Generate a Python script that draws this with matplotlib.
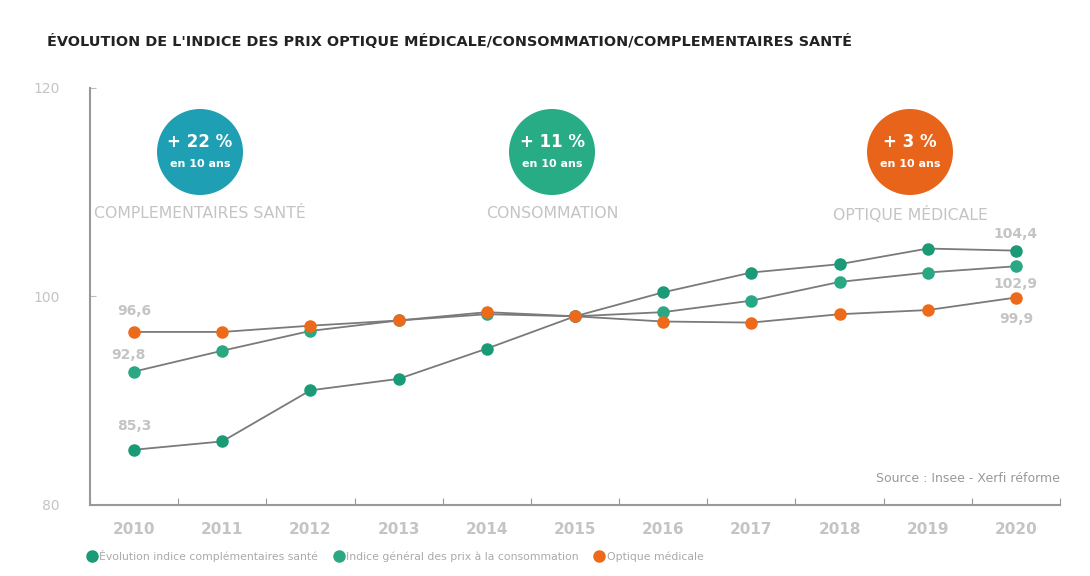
import numpy as np
import matplotlib
matplotlib.use("Agg")
import matplotlib.pyplot as plt
from matplotlib.patches import Circle

years = ["2010", "2011", "2012", "2013", "2014", "2015", "2016", "2017", "2018", "2019", "2020"]
complementaires = [85.3, 86.1, 91.0, 92.1, 95.0, 98.1, 100.4, 102.3, 103.1, 104.6, 104.4]
consommation = [92.8, 94.8, 96.7, 97.7, 98.3, 98.1, 98.5, 99.6, 101.4, 102.3, 102.9]
optique = [96.6, 96.6, 97.2, 97.7, 98.5, 98.1, 97.6, 97.5, 98.3, 98.7, 99.9]

series_names = ["Évolution indice complémentaires santé",
                "Indice général des prix à la consommation",
                "Optique médicale"]
badge_values = ["+ 22 %", "+ 11 %", "+ 3 %"]
badge_titles = ["COMPLEMENTAIRES SANTÉ", "CONSOMMATION", "OPTIQUE MÉDICALE"]
y_ticks = [80, 100, 120]

colors = ["#1f9fb3", "#27ac86", "#e8641b"]
marker_colors = ["#1b9a78", "#2aa884", "#ec6a1a"]
light = "#c4c4c4"
line_col = "#7a7a7a"

fig = plt.figure(figsize=(10.9, 5.76), dpi=100)
ax = fig.add_axes([90 / 1090, 71 / 576, 970 / 1090, 417 / 576])

x = np.arange(len(years))
for vals, mc, name in zip([complementaires, consommation, optique], marker_colors, series_names):
    ax.plot(x, vals, color=line_col, lw=1.3, marker="o", ms=8,
            markerfacecolor=mc, markeredgecolor=mc, label=name, zorder=3)

ax.set_xlim(-0.5, len(years) - 0.5)
ax.set_ylim(80, 120)
ax.set_xticks(np.arange(len(years) + 1) - 0.5)
ax.set_xticklabels([])
ax.set_xticks(x, minor=True)
ax.set_xticklabels(years, minor=True, color=light, fontsize=11, fontweight="bold")
ax.tick_params(axis="x", which="minor", length=0, pad=12)
ax.tick_params(axis="x", which="major", direction="in", length=5, color="#999999")
ax.set_yticks(y_ticks)
ax.set_yticklabels([str(v) for v in y_ticks], color=light, fontsize=10)
ax.tick_params(axis="y", direction="in", length=4, color="#bbbbbb", pad=22)
for s in ["top", "right"]:
    ax.spines[s].set_visible(False)
for s in ["left", "bottom"]:
    ax.spines[s].set_color("#999999")
    ax.spines[s].set_linewidth(1.5)

# value labels at first and last years
fmt = lambda v: f"{v:.1f}".replace(".", ",")
ax.annotate(fmt(complementaires[0]), (0, complementaires[0]), xytext=(0, 14),
            textcoords="offset points", ha="center", color=light, fontsize=10, fontweight="bold")
ax.annotate(fmt(consommation[0]), (0, consommation[0]), xytext=(-4, 9),
            textcoords="offset points", ha="center", color=light, fontsize=10, fontweight="bold")
ax.annotate(fmt(optique[0]), (0, optique[0]), xytext=(0, 12),
            textcoords="offset points", ha="center", color=light, fontsize=10, fontweight="bold")
ax.annotate(fmt(complementaires[-1]), (10, complementaires[-1]), xytext=(0, 9),
            textcoords="offset points", ha="center", color=light, fontsize=10, fontweight="bold")
ax.annotate(fmt(consommation[-1]), (10, consommation[-1]), xytext=(0, -16),
            textcoords="offset points", ha="center", color=light, fontsize=10, fontweight="bold")
ax.annotate(fmt(optique[-1]), (10, optique[-1]), xytext=(0, -18),
            textcoords="offset points", ha="center", color=light, fontsize=10, fontweight="bold")

# badges
badge_x = [200, 552, 910]
for bx, c, val, title in zip(badge_x, colors, badge_values, badge_titles):
    fx, fy = bx / 1090, 1 - 152 / 576
    fig.patches.append(Circle((bx, 576 - 152), 43, transform=None, facecolor=c,
                              edgecolor="none", figure=fig))
    fig.text(fx, fy + 0.017, val, color="white", fontsize=12, fontweight="bold",
             ha="center", va="center")
    fig.text(fx, fy - 0.02, "en 10 ans", color="white", fontsize=8, fontweight="bold",
             ha="center", va="center")
    fig.text(fx, 1 - 214 / 576, title, color=light, fontsize=11.3,
             ha="center", va="center")

fig.text(47 / 1090, 1 - 42 / 576,
         "ÉVOLUTION DE L'INDICE DES PRIX OPTIQUE MÉDICALE/CONSOMMATION/COMPLEMENTAIRES SANTÉ",
         fontsize=10.4, fontweight="bold", color="#222222", ha="left", va="center")
fig.text(1060 / 1090, 1 - 478 / 576, "Source : Insee - Xerfi réforme",
         fontsize=9, color="#999999", ha="right", va="center")

leg = fig.legend(loc="lower left", bbox_to_anchor=(84 / 1090, 10 / 576), ncol=3,
                 frameon=False, fontsize=7.8, handlelength=0.6, handletextpad=0.4,
                 columnspacing=1.6, borderaxespad=0)
for h in leg.legend_handles:
    h.set_linestyle("none")
for t in leg.get_texts():
    t.set_color("#aaaaaa")

fig.savefig("out.png", dpi=100)
